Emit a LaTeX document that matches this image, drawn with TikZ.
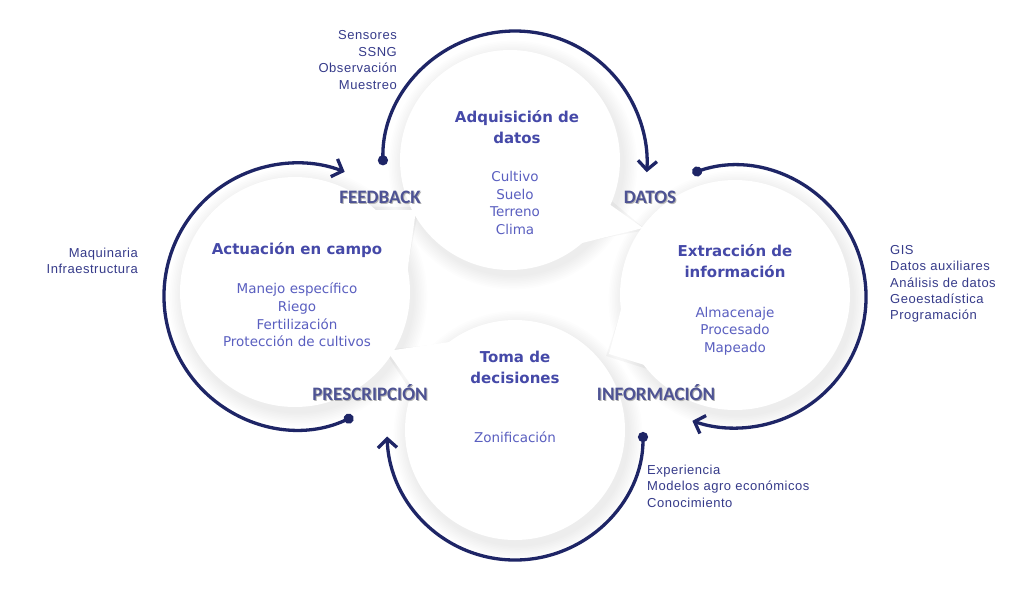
\documentclass[tikz,border=0pt]{standalone}
\usepackage{fontspec}
\setmainfont{DejaVu Sans}
\newfontfamily\sidefont[LetterSpace=4]{Liberation Sans}
\newfontfamily\labfont{Carlito}
\usetikzlibrary{arrows.meta}
\definecolor{navy}{HTML}{1E2566}
\definecolor{titleblue}{HTML}{4549A8}
\definecolor{bodyblue}{HTML}{5A5FC0}
\definecolor{sideblue}{HTML}{363B8A}
\definecolor{labblue}{HTML}{4E5394}
\tikzset{
  title/.style={font=\bfseries\fontsize{15}{21}\selectfont, text=titleblue, align=center, inner sep=0pt},
  body/.style={font=\fontsize{13.5}{17.7}\selectfont, text=bodyblue, align=center, inner sep=0pt},
  side/.style={font=\sidefont\fontsize{13}{16.4}\selectfont, text=sideblue, inner sep=0pt},
  lab/.style={font=\labfont\bfseries\fontsize{19}{22}\selectfont, text=labblue, inner sep=0pt},
  labshadow/.style={font=\labfont\bfseries\fontsize{19}{22}\selectfont, text=black!30, inner sep=0pt},
  cyc/.style={draw=navy, line width=3.3pt, {Circle[length=10pt]}-{Straight Barb[length=9pt,width=19pt]}},
  shade/.style={fill=black, opacity=0.009},
}
\begin{document}
\begin{tikzpicture}[x=1pt,y=-1pt]
\useasboundingbox (0,0) rectangle (1024,598);
\fill[white] (0,0) rectangle (1024,598);
% circle centres
\coordinate (cT) at (510,160);
\coordinate (cR) at (735,295);
\coordinate (cB) at (515,430);
\coordinate (cL) at (295,292);
% shadows
\foreach \k in {1,...,9}{
  \fill[shade] ([shift={(3,5)}]cT) circle ({110+\k*1.6});
  \fill[shade] ([shift={(3,5)}]cR) circle ({115+\k*1.6});
  \fill[shade] ([shift={(3,5)}]cB) circle ({110+\k*1.6});
  \fill[shade] ([shift={(3,5)}]cL) circle ({115+\k*1.6});
}
% tails shadows
\fill[black,opacity=0.035] ([shift={(-12:115)}]cL) -- (419,207) -- ([shift={(-48:115)}]cL) -- cycle;
\fill[black,opacity=0.035] ([shift={(22:110)}]cT) -- (646,230) -- ([shift={(48:110)}]cT) -- cycle;
\fill[black,opacity=0.035] ([shift={(140:115)}]cR) -- (606,356) -- ([shift={(172:115)}]cR) -- cycle;
\fill[black,opacity=0.035] ([shift={(200:110)}]cB) -- (384,350) -- ([shift={(232:110)}]cB) -- cycle;
% white bubbles
\fill[white] (cT) circle (110);
\fill[white] (cR) circle (115);
\fill[white] (cB) circle (110);
\fill[white] (cL) circle (115);
\fill[white] ([shift={(-10:114)}]cL) -- (416,210) -- ([shift={(-46:114)}]cL) -- cycle;
\fill[white] ([shift={(24:109)}]cT) -- (643,228) -- ([shift={(50:109)}]cT) -- cycle;
\fill[white] ([shift={(142:114)}]cR) -- (609,354) -- ([shift={(174:114)}]cR) -- cycle;
\fill[white] ([shift={(202:109)}]cB) -- (387,351) -- ([shift={(234:109)}]cB) -- cycle;
% cycle arrows
\coordinate (aT) at (515,163);
\coordinate (aR) at (735,297);
\coordinate (aB) at (515,432);
\coordinate (aL) at (297,296);
\coordinate (dT) at ([shift={(179:132)}]aT);
\coordinate (dR) at ([shift={(251:131)}]aR);
\coordinate (dB) at ([shift={(0:128)}]aB);
\coordinate (dL) at ([shift={(65:133)}]aL);
\draw[cyc] (dT) arc[start angle=179, end angle=364, radius=132];
\draw[cyc] (dR) arc[start angle=251, end angle=469, radius=131];
\draw[cyc] (dB) arc[start angle=0, end angle=178, radius=128];
\draw[cyc] (dL) arc[start angle=65, end angle=291, radius=133];
% circle texts
\node[title] (tT) at (517,127) {Adquisición de\\datos};
\node[body] (bT) at (515,203) {Cultivo\\Suelo\\Terreno\\Clima};
\node[title] (tR) at (735,261) {Extracción de\\información};
\node[body] (bR) at (735,331) {Almacenaje\\Procesado\\Mapeado};
\node[title] (tB) at (515,367) {Toma de\\decisiones};
\node[body] (bB) at (515,437) {Zonificación};
\node[title] (tL) at (297,250) {Actuación en campo};
\node[body] (bL) at (297,315) {Manejo específico\\Riego\\Fertilización\\Protección de cultivos};
% side texts
\node[side, align=right, anchor=east] (sT) at (397,60) {Sensores\\SSNG\\Observación\\Muestreo};
\node[side, align=right, anchor=east] (sL) at (138,261) {Maquinaria\\Infraestructura};
\node[side, align=left, anchor=west] (sR) at (890,284) {GIS\\Datos auxiliares\\Análisis de datos\\Geoestadística\\Programación};
\node[side, align=left, anchor=west] (sB) at (647,486) {Experiencia\\Modelos agro económicos\\Conocimiento};
% stage labels
\node[labshadow] at (381,198) {FEEDBACK};
\node[lab] (lF) at (380,197) {FEEDBACK};
\node[labshadow] at (651,198) {DATOS};
\node[lab] (lD) at (650,197) {DATOS};
\node[labshadow] at (371,394) {PRESCRIPCIÓN};
\node[lab] (lP) at (370,393) {PRESCRIPCIÓN};
\node[labshadow] at (657,394) {INFORMACIÓN};
\node[lab] (lI) at (656,393) {INFORMACIÓN};
\end{tikzpicture}
\end{document}
